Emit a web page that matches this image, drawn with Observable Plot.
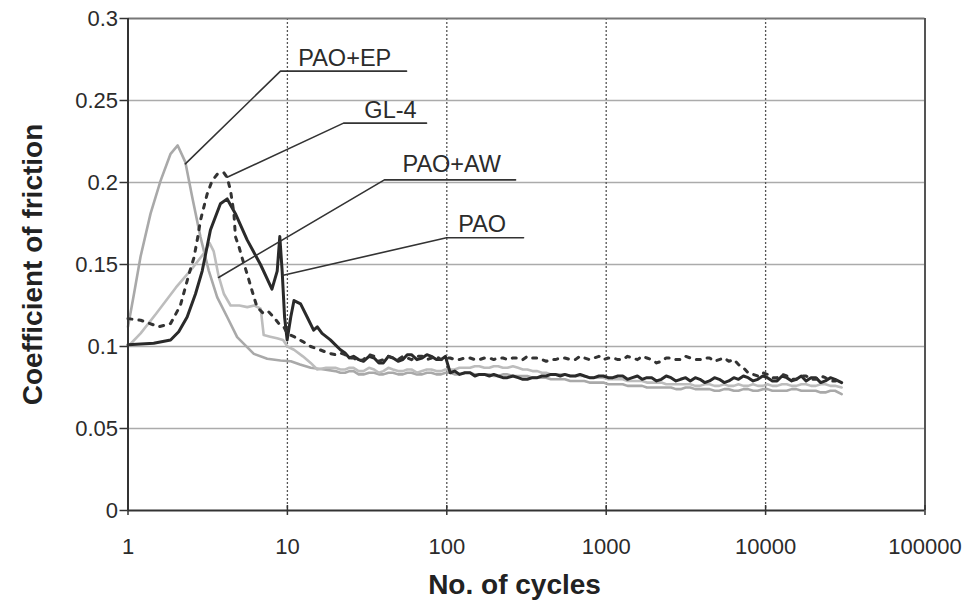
<!DOCTYPE html>
<html>
<head>
<meta charset="utf-8">
<script src="https://cdn.jsdelivr.net/npm/d3@7"></script>
<script src="https://cdn.jsdelivr.net/npm/@observablehq/plot@0.6"></script>
<style>
  html, body { margin: 0; padding: 0; background: #fff; }
  #chart svg { display: block; }
</style>
</head>
<body>
<div id="chart"></div>
<script>
// Friction coefficient vs. number of cycles for four lubricants (log cycles axis)

// Shared sampling of the long running-in tail (cycles)
const tailCycles = [
  20, 21.5, 23, 24.5, 26, 28, 30, 32.5, 35, 37.5, 40, 43, 46, 49.5, 53, 56.5, 60, 65, 70, 75, 80, 86, 92, 98,
  105, 112, 120, 130, 140, 150, 160, 172, 185, 197, 210, 225, 240, 260, 280, 300,
  320, 345, 370, 395, 420, 450, 480, 515, 550, 595, 640, 685, 730, 785, 840, 900, 960, 1030, 1100, 1185,
  1270, 1360, 1460, 1570, 1680, 1800, 1930, 2070, 2220, 2380, 2550, 2740, 2930, 3150, 3370, 3620, 3870, 4150, 4450, 4780,
  5120, 5500, 5880, 6320, 6760, 7260, 7770, 8350, 8930, 9600, 10270, 11030, 11800, 12680, 13570, 14580, 15600, 16760, 17940, 19280,
  20630, 22170, 23720, 25490, 27270, 30000];

// PAO (black solid)
const paoCycles = [1, 1.45, 1.85, 2.08, 2.35, 2.65, 2.92, 3.29, 3.8, 4.19, 4.72, 5.59, 6.78, 8.0, 8.63, 8.96, 9.27, 9.6, 9.96, 10.5, 11.0, 12.1, 13.3, 14.6, 15.4, 16.5, 18.6];
const paoCof = [0.101, 0.102, 0.104, 0.109, 0.118, 0.132, 0.146, 0.171, 0.187, 0.190, 0.181, 0.165, 0.150, 0.135, 0.146, 0.167, 0.146, 0.118, 0.104, 0.118, 0.128, 0.126, 0.118, 0.110, 0.112, 0.108, 0.104];
const paoTail = [
  0.101, 0.098, 0.096, 0.093, 0.094, 0.092, 0.091, 0.094, 0.093, 0.090, 0.090, 0.094, 0.093, 0.091, 0.092, 0.095, 0.095, 0.092, 0.093, 0.095, 0.094, 0.092, 0.092, 0.094,
  0.084, 0.085, 0.083, 0.084, 0.084, 0.082, 0.083, 0.083, 0.082, 0.083, 0.082, 0.081, 0.081, 0.082, 0.081, 0.080,
  0.080, 0.081, 0.081, 0.082, 0.082, 0.083, 0.083, 0.082, 0.083, 0.082, 0.082, 0.083, 0.082, 0.081, 0.081, 0.082, 0.082, 0.081, 0.081, 0.082,
  0.082, 0.080, 0.081, 0.082, 0.080, 0.081, 0.081, 0.079, 0.080, 0.082, 0.081, 0.079, 0.080, 0.081, 0.079, 0.081, 0.080, 0.078, 0.079, 0.081,
  0.080, 0.078, 0.079, 0.081, 0.080, 0.082, 0.081, 0.079, 0.080, 0.082, 0.081, 0.079, 0.079, 0.082, 0.081, 0.079, 0.080, 0.082, 0.079, 0.081,
  0.081, 0.078, 0.079, 0.081, 0.080, 0.078];

// GL-4 (dark dotted)
const gl4Cycles = [1, 1.2, 1.56, 1.85, 2.13, 2.29, 2.41, 2.59, 2.72, 2.85, 2.99, 3.14, 3.37, 3.63, 3.99, 4.19, 4.4, 4.62, 4.72, 4.96, 5.2, 5.6, 6.0, 6.45, 7.1, 7.65, 8.2, 8.83, 9.5, 9.96, 11, 12.5, 14, 16, 18];
const gl4Cof = [0.117, 0.116, 0.112, 0.114, 0.125, 0.136, 0.144, 0.154, 0.165, 0.177, 0.185, 0.193, 0.201, 0.205, 0.206, 0.203, 0.195, 0.181, 0.167, 0.161, 0.154, 0.144, 0.134, 0.124, 0.120, 0.121, 0.118, 0.114, 0.112, 0.108, 0.106, 0.103, 0.100, 0.098, 0.096];
const gl4Tail = [
  0.095, 0.096, 0.095, 0.093, 0.093, 0.091, 0.092, 0.095, 0.094, 0.091, 0.092, 0.094, 0.093, 0.092, 0.094, 0.093, 0.092, 0.094, 0.094, 0.092, 0.093, 0.094, 0.092, 0.093,
  0.093, 0.092, 0.092, 0.093, 0.093, 0.092, 0.092, 0.093, 0.093, 0.092, 0.093, 0.093, 0.092, 0.093, 0.093, 0.092,
  0.094, 0.093, 0.093, 0.092, 0.091, 0.092, 0.092, 0.093, 0.093, 0.092, 0.092, 0.094, 0.093, 0.092, 0.093, 0.094, 0.092, 0.093, 0.093, 0.092,
  0.092, 0.094, 0.093, 0.092, 0.094, 0.093, 0.092, 0.090, 0.091, 0.093, 0.093, 0.092, 0.092, 0.094, 0.093, 0.092, 0.092, 0.093, 0.093, 0.091,
  0.092, 0.093, 0.091, 0.092, 0.089, 0.087, 0.084, 0.083, 0.082, 0.084, 0.083, 0.081, 0.081, 0.083, 0.082, 0.080, 0.080, 0.082, 0.082, 0.080,
  0.080, 0.082, 0.081, 0.079, 0.079, 0.080];

// PAO+AW (mid grey)
const awCycles = [1, 1.2, 1.5, 2.0, 2.5, 3.0, 3.25, 3.45, 3.7, 4.0, 4.4, 5.0, 5.6, 6.2, 6.8, 7.1, 7.8, 8.6, 9.4, 10, 11, 12.5, 14, 15.4, 17.5];
const awCof = [0.100, 0.108, 0.120, 0.136, 0.147, 0.157, 0.163, 0.158, 0.143, 0.132, 0.125, 0.125, 0.124, 0.125, 0.123, 0.107, 0.106, 0.105, 0.104, 0.100, 0.098, 0.094, 0.090, 0.086, 0.087];
const awTail = [
  0.087, 0.086, 0.086, 0.087, 0.087, 0.085, 0.085, 0.087, 0.086, 0.084, 0.085, 0.087, 0.086, 0.085, 0.085, 0.086, 0.086, 0.084, 0.085, 0.086, 0.086, 0.085, 0.085, 0.086,
  0.086, 0.086, 0.087, 0.087, 0.087, 0.088, 0.088, 0.087, 0.087, 0.088, 0.088, 0.087, 0.087, 0.088, 0.087, 0.086,
  0.086, 0.085, 0.085, 0.084, 0.084, 0.083, 0.083, 0.083, 0.083, 0.082, 0.082, 0.082, 0.082, 0.081, 0.081, 0.081, 0.081, 0.080, 0.080, 0.080,
  0.080, 0.079, 0.079, 0.079, 0.079, 0.078, 0.078, 0.078, 0.078, 0.077, 0.077, 0.077, 0.077, 0.077, 0.077, 0.076, 0.076, 0.077, 0.077, 0.076,
  0.076, 0.077, 0.076, 0.076, 0.077, 0.076, 0.076, 0.077, 0.076, 0.076, 0.077, 0.076, 0.076, 0.077, 0.077, 0.076, 0.076, 0.077, 0.077, 0.076,
  0.076, 0.077, 0.077, 0.076, 0.076, 0.075];

// PAO+EP (light grey)
const epCycles = [1, 1.09, 1.2, 1.385, 1.6, 1.85, 2.05, 2.29, 2.53, 2.85, 3.21, 3.63, 4.19, 4.84, 6.16, 7.47, 9.05, 10.5, 12, 14, 17];
const epCof = [0.112, 0.132, 0.155, 0.181, 0.201, 0.2175, 0.2226, 0.2124, 0.191, 0.1667, 0.1463, 0.130, 0.118, 0.1057, 0.0955, 0.0925, 0.0915, 0.091, 0.089, 0.087, 0.086];
const epTail = [
  0.085, 0.084, 0.084, 0.085, 0.085, 0.083, 0.083, 0.084, 0.084, 0.083, 0.083, 0.084, 0.084, 0.083, 0.083, 0.084, 0.084, 0.083, 0.083, 0.084, 0.084, 0.083, 0.083, 0.084,
  0.084, 0.083, 0.083, 0.084, 0.084, 0.083, 0.083, 0.083, 0.083, 0.082, 0.082, 0.083, 0.083, 0.082, 0.082, 0.082,
  0.082, 0.081, 0.081, 0.081, 0.081, 0.080, 0.080, 0.080, 0.080, 0.079, 0.079, 0.079, 0.079, 0.078, 0.078, 0.078, 0.078, 0.077, 0.077, 0.077,
  0.077, 0.076, 0.076, 0.076, 0.076, 0.075, 0.075, 0.075, 0.075, 0.075, 0.075, 0.074, 0.074, 0.075, 0.075, 0.074, 0.074, 0.074, 0.074, 0.073,
  0.073, 0.074, 0.074, 0.073, 0.073, 0.074, 0.074, 0.073, 0.073, 0.074, 0.074, 0.073, 0.073, 0.073, 0.073, 0.074, 0.074, 0.073, 0.073, 0.073,
  0.073, 0.072, 0.072, 0.073, 0.073, 0.071];

// Callout labels: text anchor, leader tip on the curve, elbow and end of the underline
const labelNames = ["PAO+EP", "GL-4", "PAO+AW", "PAO"];
const labelCycles = [11.7, 30.4, 52.7, 118];
const labelCof = [0.2713, 0.2396, 0.2067, 0.1701];
const tipCycles = [2.29, 4.19, 3.70, 9.27];
const tipCof = [0.2114, 0.2032, 0.1421, 0.1433];
const elbowCycles = [9.05, 22.5, 40.6, 99.6];
const elbowCof = [0.2679, 0.2362, 0.2016, 0.1663];
const underlineEndCycles = [55.9, 74.6, 270, 303];

// Axis ticks
const xTicks = [1, 10, 100, 1000, 10000, 100000];
const yTicks = [0, 0.05, 0.1, 0.15, 0.2, 0.25, 0.3];
const yGrid = [0.05, 0.1, 0.15, 0.2, 0.25];
const xGrid = [10, 100, 1000, 10000];

const xTitle = "No. of cycles";
const yTitle = "Coefficient of friction";

const seriesDefs = [
  {name: "PAO+EP", cycles: epCycles.concat(tailCycles), cof: epCof.concat(epTail)},
  {name: "PAO+AW", cycles: awCycles.concat(tailCycles), cof: awCof.concat(awTail)},
  {name: "PAO", cycles: paoCycles.concat(tailCycles), cof: paoCof.concat(paoTail)},
  {name: "GL-4", cycles: gl4Cycles.concat(tailCycles), cof: gl4Cof.concat(gl4Tail)}
];
const rows = seriesDefs.flatMap(s => s.cycles.map((c, i) => ({series: s.name, cycles: c, cof: s.cof[i]})));
const bySeries = name => rows.filter(d => d.series === name);

const leaders = labelNames.flatMap((name, i) => [
  {name, cycles: tipCycles[i], cof: tipCof[i]},
  {name, cycles: elbowCycles[i], cof: elbowCof[i]},
  {name, cycles: underlineEndCycles[i], cof: elbowCof[i]}
]);
const labels = labelNames.map((name, i) => ({name, cycles: labelCycles[i], cof: labelCof[i]}));

const chart = Plot.plot({
  width: 974,
  height: 600,
  marginLeft: 127.5,
  marginRight: 49.5,
  marginTop: 18,
  marginBottom: 90,
  style: {fontFamily: "'Liberation Sans', Arial, sans-serif", fontSize: "22px", color: "#2b2b2b", background: "#fff"},
  x: {type: "log", domain: [1, 100000]},
  y: {domain: [0, 0.3]},
  marks: [
    // grid
    Plot.ruleY(yGrid, {stroke: "#ababab", strokeWidth: 1.6}),
    Plot.ruleX(xGrid, {stroke: "#555", strokeWidth: 1.3, strokeDasharray: "2,2"}),
    Plot.ruleY([0.3], {stroke: "#777", strokeWidth: 2}),
    Plot.ruleX([100000], {stroke: "#555", strokeWidth: 2}),

    // curves
    Plot.line(bySeries("PAO+EP"), {x: "cycles", y: "cof", stroke: "#a9a9a9", strokeWidth: 2.6}),
    Plot.line(bySeries("PAO+AW"), {x: "cycles", y: "cof", stroke: "#bdbdbd", strokeWidth: 2.6}),
    Plot.line(bySeries("PAO"), {x: "cycles", y: "cof", stroke: "#2a2a2a", strokeWidth: 3}),
    Plot.line(bySeries("GL-4"), {x: "cycles", y: "cof", stroke: "#333", strokeWidth: 3, strokeDasharray: "4,7"}),

    // callouts
    Plot.line(leaders, {x: "cycles", y: "cof", z: "name", stroke: "#333", strokeWidth: 1.6}),
    Plot.text(labels, {x: "cycles", y: "cof", text: "name", textAnchor: "start", lineAnchor: "bottom", fill: "#2b2b2b", fontSize: 23.5}),

    // axes
    Plot.ruleY([0], {stroke: "#333", strokeWidth: 2}),
    Plot.ruleX([1], {stroke: "#333", strokeWidth: 2}),
    Plot.ruleX(xTicks, {y1: 0, y2: 0, insetTop: -5, insetBottom: -5, stroke: "#333", strokeWidth: 1.5}),
    Plot.axisX({ticks: xTicks, tickFormat: d => String(d), tickSize: 0, tickPadding: 28, fontSize: 22, label: null}),
    Plot.axisY({ticks: yTicks, tickFormat: d => String(d), tickSize: 8, tickPadding: 2, fontSize: 22, label: null, stroke: "#333", strokeWidth: 1.5}),
    Plot.text([xTitle], {frameAnchor: "bottom", dx: -12, dy: 75, text: d => d, fontWeight: "bold", fontSize: 28, textAnchor: "middle", lineAnchor: "middle", fill: "#222"}),
    Plot.text([yTitle], {frameAnchor: "left", dx: -95, rotate: -90, text: d => d, fontWeight: "bold", fontSize: 28, textAnchor: "middle", lineAnchor: "middle", fill: "#222"})
  ]
});

document.getElementById("chart").appendChild(chart);
</script>
</body>
</html>
